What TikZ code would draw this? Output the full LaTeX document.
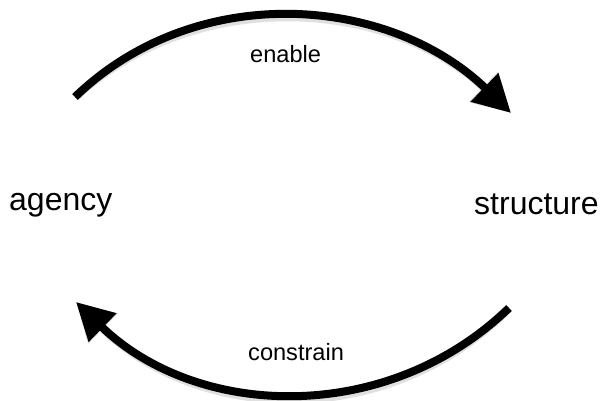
\documentclass[tikz,border=0pt]{standalone}
\usepackage{fontspec}
\setmainfont{Liberation Sans}
\usetikzlibrary{arrows.meta}
\tikzset{
  lbl/.style={inner sep=0pt, anchor=base west, font=\fontsize{23.6}{28}\selectfont},
  big/.style={inner sep=0pt, anchor=base west, font=\fontsize{32}{38}\selectfont},
  flow/.style={line width=8pt, -{Triangle[length=37pt, width=38pt]}},
  shade/.style={line width=9pt, draw=black, opacity=0.12, -{Triangle[length=38pt, width=40pt]}}
}
\begin{document}
\begin{tikzpicture}[x=1pt, y=-1pt]
\useasboundingbox (0,0) rectangle (601,400);
% text
\node[big] (agency) at (9,210) {agency};
\node[big] (structure) at (474,214) {structure};
\node[lbl] (enable) at (250,62) {enable};
\node[lbl] (constrain) at (248,360) {constrain};
% ends
\coordinate (a1) at (75,97);
\coordinate (s1) at (511,113);
\coordinate (s2) at (509,308);
\coordinate (a2) at (76,302);
% shadows
\begin{scope}[xshift=2pt, yshift=-4pt]
\draw[shade] (a1) .. controls (196.6,-20.5) and (389.4,-4.5) .. (s1);
\draw[shade] (s2) .. controls (387.4,425.5) and (197.6,419.5) .. (a2);
\end{scope}
% arrows
\draw[flow] (a1) .. controls (196.6,-20.5) and (389.4,-4.5) .. (s1);
\draw[flow] (s2) .. controls (387.4,425.5) and (197.6,419.5) .. (a2);
\end{tikzpicture}
\end{document}
